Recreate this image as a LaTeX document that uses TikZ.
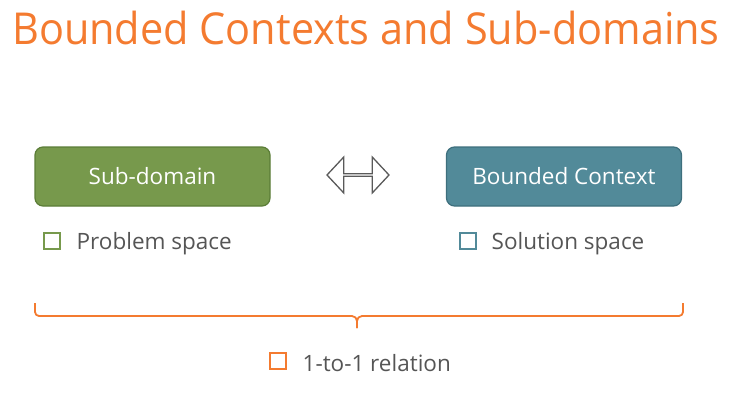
\documentclass[tikz,border=0pt]{standalone}
\usepackage{fontspec}
\setmainfont{Open Sans}
\usetikzlibrary{shapes.arrows,positioning}
\definecolor{titleOrange}{HTML}{F47B30}
\definecolor{greenFill}{HTML}{77994C}
\definecolor{greenLine}{HTML}{5B7D37}
\definecolor{tealFill}{HTML}{528A99}
\definecolor{tealLine}{HTML}{3E6F7D}
\definecolor{labelGray}{HTML}{555555}
\definecolor{arrowGray}{HTML}{5A5A5A}

\begin{document}
\begin{tikzpicture}[
  x=1pt, y=-1pt,
  domainbox/.style={
    rectangle, rounded corners=8pt,
    draw, line width=1.2pt,
    minimum width=235pt, minimum height=59pt,
    text=white, font=\fontsize{22.5}{26}\selectfont
  },
  greenbox/.style={domainbox, fill=greenFill, draw=greenLine},
  tealbox/.style={domainbox, fill=tealFill, draw=tealLine},
  tick/.style={rectangle, draw, line width=1.9pt, minimum size=16pt, inner sep=0pt},
  caption/.style={text=labelGray, font=\fontsize{22.5}{26}\selectfont, inner sep=0pt, anchor=west, yshift=-2.5pt}
]
\useasboundingbox (0,0) rectangle (731,420);

% title
\node[text=titleOrange, font=\fontsize{44}{50}\selectfont, anchor=base west, inner sep=0pt]
  (title) at (12,45) {\scalebox{0.942}[1]{Bounded Contexts and Sub-domains}};

% the two boxes
\node[greenbox] (sub) at (152.5,176.5) {Sub-domain};
\node[tealbox] (bc) at (564,176.5) {Bounded Context};

% two-way arrow between them
\node[double arrow, draw=arrowGray, fill=white, line width=1.3pt,
  minimum width=36pt, minimum height=62pt, double arrow head extend=9pt,
  double arrow tip angle=94, inner sep=0pt] (eq) at (358,175) {};

% space labels
\node[tick, draw=greenFill] (subtick) at (52,241) {};
\node[caption, right=15.5pt of subtick] (subtext) {Problem space};
\node[tick, draw=tealFill] (bctick) at (468,241) {};
\node[caption, right=14.5pt of bctick] (bctext) {Solution space};

% brace
\draw[titleOrange, line width=1.8pt, line join=round]
  (35,303) -- (35,312) arc[start angle=180, end angle=90, radius=4] -- (352,316)
  arc[start angle=-90, end angle=0, radius=5] -- (357,328);
\draw[titleOrange, line width=1.8pt, line join=round]
  (683,303) -- (683,312) arc[start angle=0, end angle=90, radius=4] -- (362,316)
  arc[start angle=270, end angle=180, radius=5] -- (357,328);

% relation label
\node[tick, draw=titleOrange] (reltick) at (278,361) {};
\node[caption, right=15.5pt of reltick] (reltext) {1-to-1 relation};

\end{tikzpicture}
\end{document}
